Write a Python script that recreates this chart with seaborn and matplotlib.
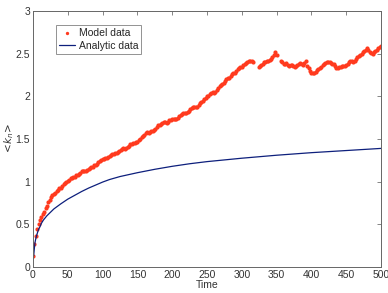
"""
Mean degree <k_n> over time: simulated model data against the analytic curve.
"""

import matplotlib
matplotlib.use("Agg")
import matplotlib.pyplot as plt
import numpy as np
import pandas as pd
import seaborn as sns

# model data, one reading every 2 time steps (nan = gap in the record)
model_time = list(range(0, 501, 2))
model_k = [
    0.13, 0.27, 0.36, 0.44, 0.50, 0.55, 0.58, 0.62, 0.65, 0.69,
    0.72, 0.76, 0.79, 0.82, 0.84, 0.85, 0.87, 0.89, 0.90, 0.92,
    0.93, 0.95, 0.97, 0.99, 1.00, 1.01, 1.02, 1.04, 1.04, 1.05,
    1.06, 1.08, 1.08, 1.09, 1.10, 1.12, 1.12, 1.12, 1.13, 1.14,
    1.15, 1.16, 1.17, 1.17, 1.19, 1.20, 1.21, 1.23, 1.24, 1.25,
    1.26, 1.27, 1.28, 1.28, 1.29, 1.30, 1.31, 1.32, 1.33, 1.34,
    1.34, 1.35, 1.36, 1.37, 1.38, 1.39, 1.38, 1.39, 1.41, 1.42,
    1.44, 1.44, 1.45, 1.45, 1.46, 1.47, 1.49, 1.50, 1.52, 1.53,
    1.55, 1.57, 1.58, 1.57, 1.58, 1.59, 1.60, 1.61, 1.62, 1.64,
    1.66, 1.67, 1.68, 1.69, 1.70, 1.70, 1.69, 1.70, 1.72, 1.72,
    1.73, 1.74, 1.74, 1.74, 1.75, 1.77, 1.78, 1.79, 1.80, 1.81,
    1.80, 1.82, 1.83, 1.85, 1.86, 1.87, 1.88, 1.88, 1.88, 1.90,
    1.92, 1.93, 1.95, 1.97, 1.98, 2.00, 2.01, 2.03, 2.04, 2.05,
    2.04, 2.05, 2.07, 2.10, 2.12, 2.13, 2.15, 2.16, 2.18, 2.20,
    2.21, 2.22, 2.24, 2.26, 2.27, 2.28, 2.30, 2.32, 2.33, 2.34,
    2.35, 2.37, 2.38, 2.39, 2.40, 2.41, 2.41, 2.41, 2.40, np.nan,
    np.nan, np.nan, 2.35, 2.36, 2.37, 2.38, 2.40, 2.40, 2.41, 2.42,
    2.43, 2.44, 2.46, 2.49, 2.52, 2.48, np.nan, np.nan, 2.41, 2.40,
    2.38, 2.38, 2.39, 2.37, 2.36, 2.37, 2.37, 2.36, 2.35, 2.36,
    2.37, 2.38, 2.39, 2.38, 2.37, 2.39, 2.41, 2.36, 2.33, 2.30,
    2.28, 2.27, 2.27, 2.29, 2.31, 2.32, 2.33, 2.35, 2.37, 2.38,
    2.39, 2.40, 2.40, 2.40, 2.39, 2.38, 2.38, 2.36, 2.33, 2.33,
    2.34, 2.35, 2.36, 2.36, 2.36, 2.37, 2.38, 2.40, 2.42, 2.41,
    2.40, 2.42, 2.44, 2.46, 2.47, 2.49, 2.50, 2.52, 2.53, 2.55,
    2.57, 2.54, 2.52, 2.51, 2.50, 2.52, 2.53, 2.55, 2.57, 2.58,
    2.59,
]

# analytic curve
analytic_time = [1, 2, 3, 4, 5, 6, 8, 10, 12, 15, 20, 25, 30, 35, 40, 50,
                 60, 70, 80, 90, 100, 110, 125, 150, 175, 200, 225, 250,
                 300, 350, 400, 450, 500]
analytic_k = [0.13, 0.22, 0.29, 0.33, 0.36, 0.39, 0.44, 0.47, 0.51, 0.55,
              0.60, 0.64, 0.68, 0.71, 0.74, 0.795, 0.84, 0.885, 0.925,
              0.96, 0.995, 1.025, 1.06, 1.105, 1.145, 1.18, 1.21, 1.235,
              1.275, 1.31, 1.34, 1.365, 1.39]

x_ticks = [0, 50, 100, 150, 200, 250, 300, 350, 400, 450, 500]
y_ticks = [0, 0.5, 1, 1.5, 2, 2.5, 3]
y_tick_labels = ["0", "0.5", "1", "1.5", "2", "2.5", "3"]


def main():
    sns.set_style("white")
    plt.rcParams["font.family"] = ["Liberation Sans", "DejaVu Sans"]
    plt.rcParams["font.size"] = 7.5

    model = pd.DataFrame({"Time": model_time, "k": model_k})
    analytic = pd.DataFrame({"Time": analytic_time, "k": analytic_k})

    fig = plt.figure(figsize=(3.88, 2.93), dpi=100)
    ax = fig.add_axes([0.085, 0.089, 0.897, 0.873])

    ax.plot(model["Time"], model["k"], linestyle="none", marker="o",
            markersize=3.0, markeredgewidth=0, color="#ff3a1e",
            label="Model data")
    sns.lineplot(data=analytic, x="Time", y="k", color="#0d1f7c",
                 linewidth=0.9, label="Analytic data", ax=ax)

    ax.set_xlim(0, 500)
    ax.set_ylim(0, 3)
    ax.set_xticks(x_ticks)
    ax.set_yticks(y_ticks)
    ax.set_yticklabels(y_tick_labels)
    ax.tick_params(direction="in", top=True, right=True, length=3,
                   width=0.5, color="#555555", labelsize=7.5, pad=2,
                   labelcolor="#333333")
    for spine in ax.spines.values():
        spine.set_color("#666666")
        spine.set_linewidth(0.7)

    ax.set_xlabel("Time", fontsize=7.5, labelpad=0.5, color="#333333")
    ax.set_ylabel(r"$<\!k_n\!>$", fontsize=7.5, labelpad=0, color="#333333")

    leg = ax.legend(loc="upper left", bbox_to_anchor=(0.065, 0.945),
                    borderaxespad=0, fontsize=7.5, frameon=True,
                    fancybox=False, handlelength=1.6, handletextpad=0.3,
                    borderpad=0.3, labelspacing=0.25, markerscale=0.8)
    leg.get_frame().set_edgecolor("#777777")
    leg.get_frame().set_linewidth(0.7)

    fig.savefig("out.png", dpi=100)
    plt.close(fig)


if __name__ == "__main__":
    main()
